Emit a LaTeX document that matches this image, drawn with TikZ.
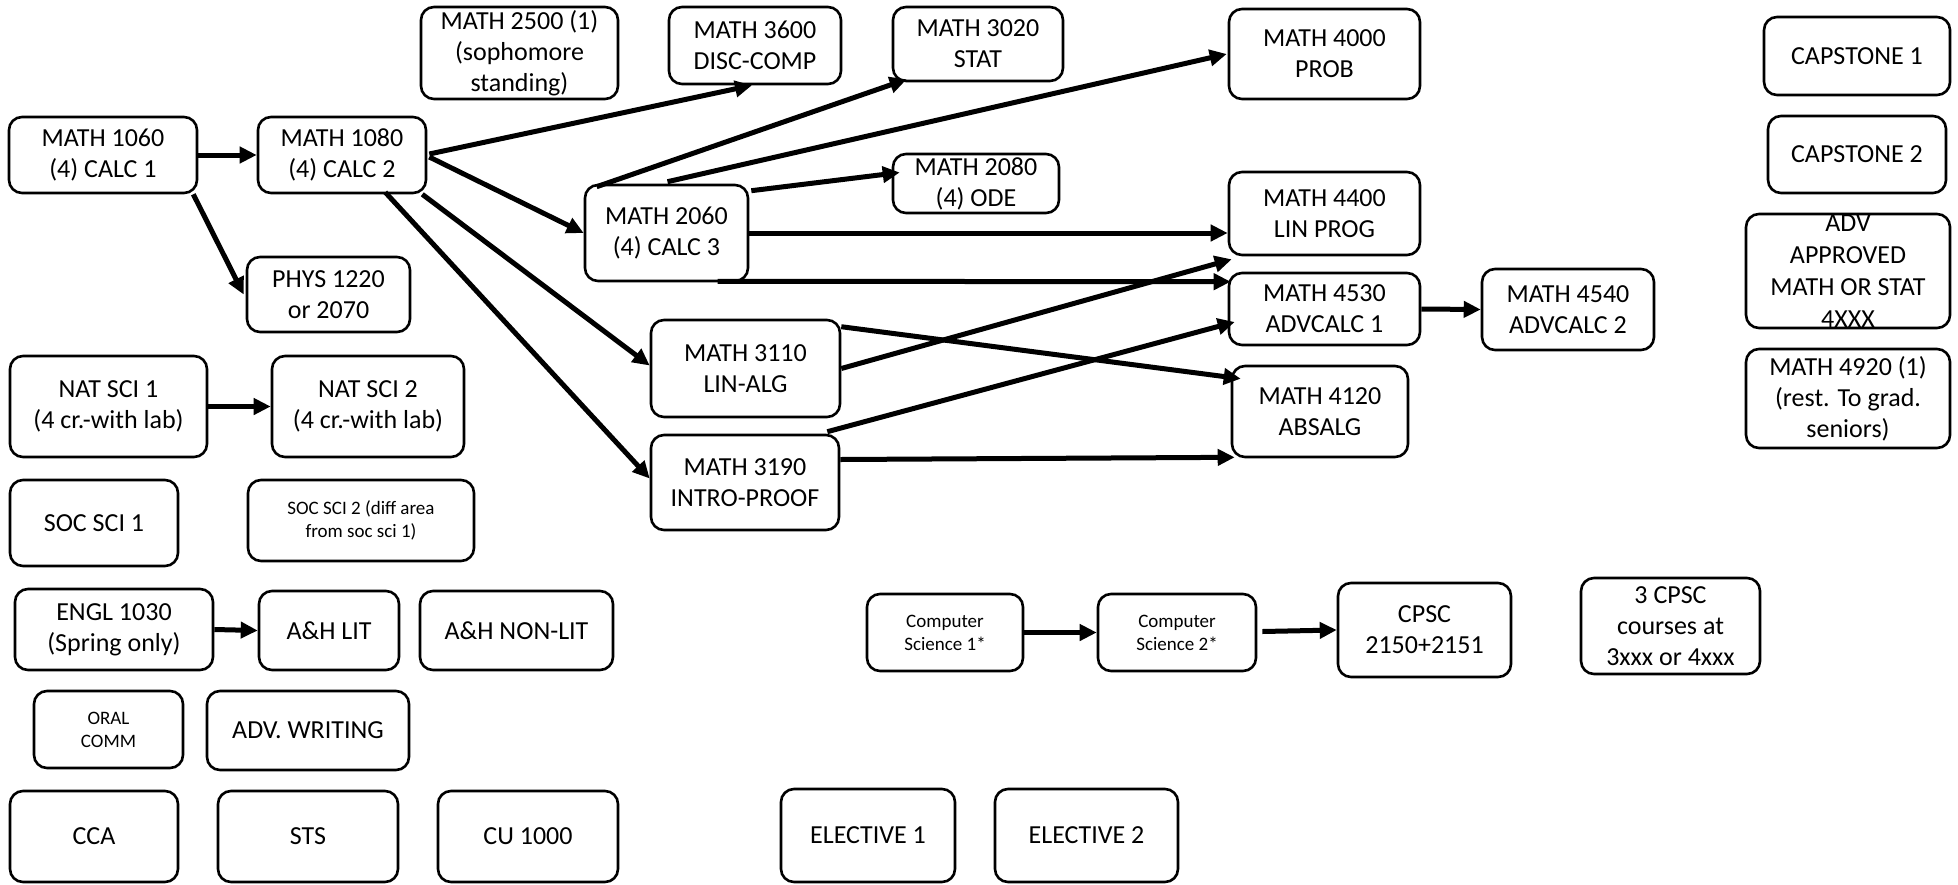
\documentclass[tikz,border=0pt]{standalone}
\usepackage{fontspec}
\setmainfont{Carlito}
\usetikzlibrary{arrows.meta}
\begin{document}
\begin{tikzpicture}[x=1pt,y=-1pt,
  box/.style={draw, line width=2.6pt, rounded corners=13pt, align=center, inner sep=0pt, font=\fontsize{26}{31}\selectfont},
  small/.style={font=\fontsize{19}{23}\selectfont},
  arr/.style={line width=5pt, -{Triangle[length=17pt,width=16pt]}}]
\useasboundingbox (0,0) rectangle (1958,884);
% math chain
\node[box, minimum width=188pt, minimum height=76pt] (m1060) at (103,155) {MATH 1060\\(4) CALC 1};
\node[box, minimum width=168pt, minimum height=76pt] (m1080) at (342,155) {MATH 1080\\(4) CALC 2};
\node[box, minimum width=197pt, minimum height=92pt] (m2500) at (519.5,53) {MATH 2500 (1)\\(sophomore\\standing)};
\node[box, minimum width=163pt, minimum height=75pt] (phys) at (328.5,294.5) {PHYS 1220\\or 2070};
\node[box, minimum width=163pt, minimum height=96pt] (m2060) at (666.5,233) {MATH 2060\\(4) CALC 3};
\node[box, minimum width=172pt, minimum height=77pt] (m3600) at (755,45.5) {MATH 3600\\DISC-COMP};
\node[box, minimum width=170pt, minimum height=74pt] (m3020) at (978,44) {MATH 3020\\STAT};
\node[box, minimum width=191pt, minimum height=90pt] (m4000) at (1324.5,54) {MATH 4000\\PROB};
\node[box, minimum width=166pt, minimum height=59pt] (m2080) at (976,183.5) {MATH 2080\\(4) ODE};
\node[box, minimum width=191pt, minimum height=83pt] (m4400) at (1324.5,213.5) {MATH 4400\\LIN PROG};
\node[box, minimum width=191pt, minimum height=72pt] (m4530) at (1324.5,309) {MATH 4530\\ADVCALC 1};
\node[box, minimum width=172pt, minimum height=81pt] (m4540) at (1568,309.5) {MATH 4540\\ADVCALC 2};
\node[box, minimum width=176pt, minimum height=91pt] (m4120) at (1320,411.5) {MATH 4120\\ABSALG};
\node[box, minimum width=189pt, minimum height=97pt] (m3110) at (745.5,368.5) {MATH 3110\\LIN-ALG};
\node[box, minimum width=188pt, minimum height=95pt] (m3190) at (745,482.5) {MATH 3190\\INTRO-PROOF};
% right column
\node[box, minimum width=186pt, minimum height=78pt] (cap1) at (1857,56) {CAPSTONE 1};
\node[box, minimum width=178pt, minimum height=77pt] (cap2) at (1857,154.5) {CAPSTONE 2};
\node[box, minimum width=204pt, minimum height=114pt, font=\fontsize{26}{32}\selectfont] (adv) at (1848,271) {ADV\\APPROVED\\MATH OR STAT\\4XXX};
\node[box, minimum width=204pt, minimum height=99pt] (m4920) at (1848,398.5) {MATH 4920 (1)\\(rest. To grad.\\seniors)};
% gen ed
\node[box, minimum width=197pt, minimum height=101pt] (nat1) at (108.5,406.5) {NAT SCI 1\\(4 cr.-with lab)};
\node[box, minimum width=192pt, minimum height=101pt] (nat2) at (368,406.5) {NAT SCI 2\\(4 cr.-with lab)};
\node[box, minimum width=168pt, minimum height=86pt] (soc1) at (94,523) {SOC SCI 1};
\node[box, small, minimum width=226pt, minimum height=81pt] (soc2) at (361,520.5) {SOC SCI 2 (diff area\\from soc sci 1)};
\node[box, minimum width=198pt, minimum height=81pt] (engl) at (114,629.5) {ENGL 1030\\(Spring only)};
\node[box, minimum width=140pt, minimum height=79pt] (ahlit) at (329,630.5) {A\&H LIT};
\node[box, minimum width=193pt, minimum height=79pt] (ahnon) at (516.5,630.5) {A\&H NON-LIT};
\node[box, small, minimum width=149pt, minimum height=77pt] (oral) at (108.5,729.5) {ORAL\\COMM};
\node[box, minimum width=202pt, minimum height=79pt] (advw) at (308,730.5) {ADV. WRITING};
\node[box, minimum width=168pt, minimum height=91pt] (cca) at (94,836.5) {CCA};
\node[box, minimum width=180pt, minimum height=91pt] (sts) at (308,836.5) {STS};
\node[box, minimum width=180pt, minimum height=91pt] (cu) at (528,836.5) {CU 1000};
\node[box, minimum width=174pt, minimum height=93pt] (el1) at (868,835.5) {ELECTIVE 1};
\node[box, minimum width=183pt, minimum height=93pt] (el2) at (1086.5,835.5) {ELECTIVE 2};
% CS
\node[box, small, minimum width=156pt, minimum height=77pt] (cs1) at (945,632.5) {Computer\\Science 1*};
\node[box, small, minimum width=158pt, minimum height=77pt] (cs2) at (1177,632.5) {Computer\\Science 2*};
\node[box, minimum width=173pt, minimum height=94pt] (cpsc) at (1424.5,630) {CPSC\\2150+2151};
\node[box, minimum width=179pt, minimum height=96pt] (cpsc3) at (1670.5,626) {3 CPSC\\courses at\\3xxx or 4xxx};
% arrows
\draw[arr] (m1060.east) -- (m1080.west);
\draw[arr] ([xshift=-5pt]m1060.south east) -- ([xshift=-2pt]phys.west);
\draw[arr] ([xshift=2pt,yshift=1pt]m1080.east) -- ([xshift=-3pt]m3600.south);
\draw[arr] ([xshift=2pt,yshift=-2pt]m1080.east) -- (m2060.west);
\draw[arr] ([xshift=-5pt]m1080.south east) -- ([yshift=3pt]m3110.west);
\draw[arr] ([xshift=-42pt,yshift=2pt]m1080.south east) -- ([yshift=4pt]m3190.west);
\draw[arr] ([xshift=13pt,yshift=-3pt]m2060.north west) -- ([xshift=15pt,yshift=3pt]m3020.south west);
\draw[arr] ([xshift=1pt,yshift=2pt]m2060.north) -- ([xshift=-1pt]m4000.west);
\draw[arr] ([xshift=2pt,yshift=-7pt]m2060.north east) -- ([xshift=8pt,yshift=11pt]m2080.west);
\draw[arr] (m2060.east) -- (m2060.east -| m4400.west);
\draw[arr] ([xshift=51pt,yshift=1pt]m2060.south) -- ([xshift=3pt,yshift=-10pt]m4530.north west);
\draw[arr] (m3110.east) -- ([xshift=4pt,yshift=-3pt]m4400.south west);
\draw[arr] ([yshift=-8pt]m3110.north east) -- ([xshift=10pt,yshift=-14pt]m4120.north west);
\draw[arr] ([xshift=-13pt,yshift=2pt]m3190.north east) -- ([xshift=7pt,yshift=-13pt]m4530.west);
\draw[arr] ([yshift=23pt]m3190.east) -- ([xshift=4pt,yshift=1pt]m4120.south west);
\draw[arr] (m4530.east) -- (m4540.west);
\draw[arr] (nat1.east) -- (nat2.west);
\draw[arr] (engl.east) -- (ahlit.west);
\draw[arr] (cs1.east) -- (cs2.west);
\draw[arr] ([xshift=5pt,yshift=1pt]cs2.east) -- (cpsc.west);
\end{tikzpicture}
\end{document}
